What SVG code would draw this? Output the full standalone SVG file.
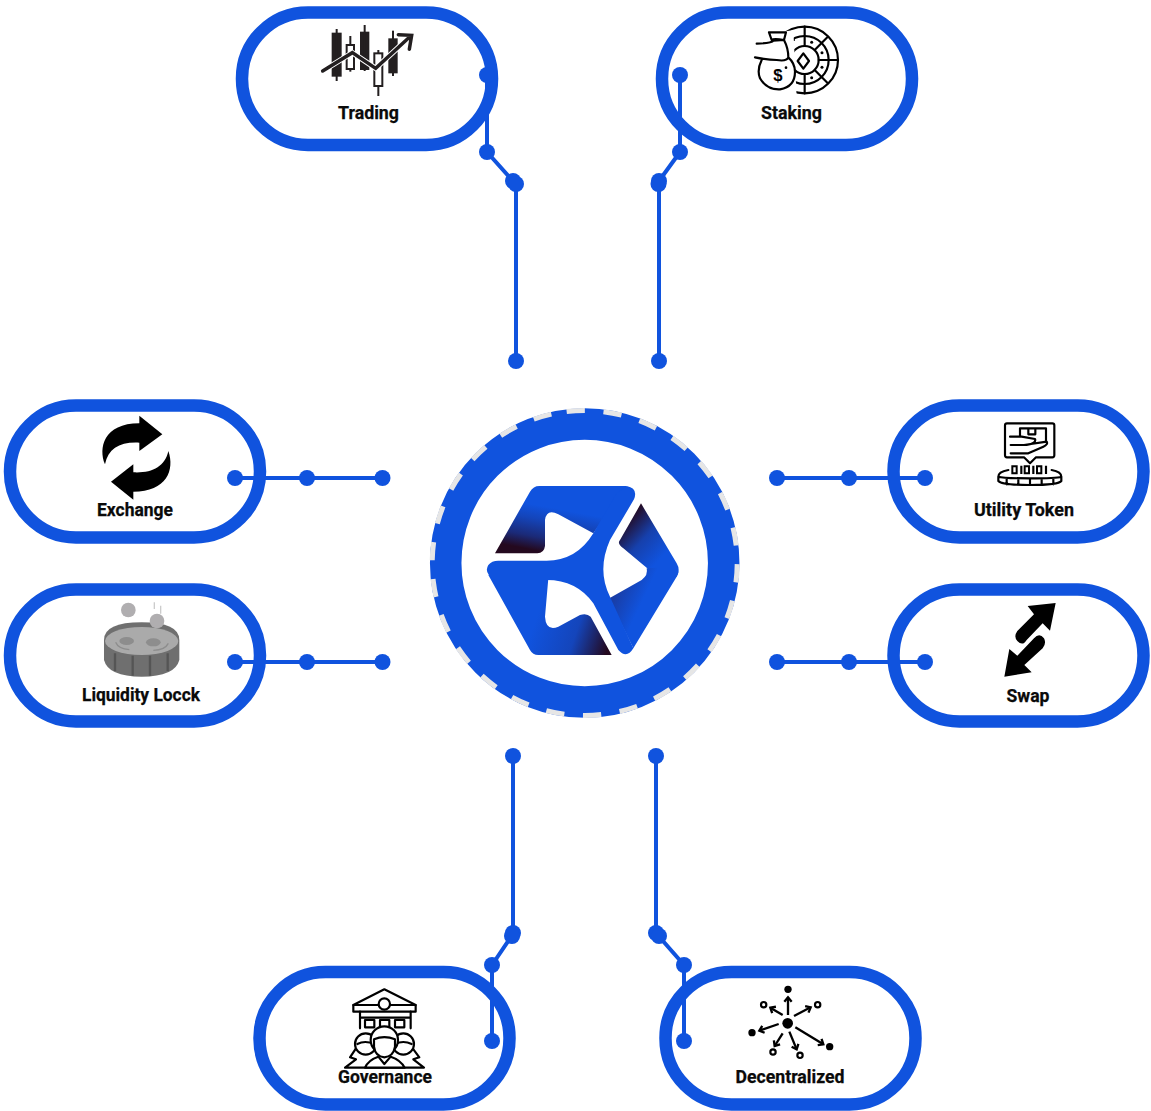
<svg xmlns="http://www.w3.org/2000/svg" width="1151" height="1111" viewBox="0 0 1151 1111">
<defs>
<style>
.pill{fill:#fff;stroke:#1053de;stroke-width:12.5}
.lbl{font-family:"Roboto","Noto Sans","Liberation Sans",sans-serif;font-weight:700;font-size:18.500px;fill:#0a0a0a;stroke:#0a0a0a;stroke-width:.25;text-anchor:middle}
.wire{fill:none;stroke:#1053de;stroke-width:4}
.dot{fill:#1053de}
.ln{fill:none;stroke:#000;stroke-width:6.500;stroke-linecap:round;stroke-linejoin:round}
.lw{fill:#fff;stroke:#000;stroke-width:6.500;stroke-linejoin:round}
.tk{fill:#231f20}
.z{fill:#fff;stroke:#231f20;stroke-width:6}
</style>
<linearGradient id="gTop" gradientUnits="userSpaceOnUse" x1="430" y1="330" x2="405" y2="462"><stop offset="0" stop-color="#1053de"/><stop offset=".3" stop-color="#1445bb"/><stop offset=".7" stop-color="#1b2a78"/><stop offset="1" stop-color="#24091f"/></linearGradient>
<linearGradient id="gRight" gradientUnits="userSpaceOnUse" x1="630" y1="345" x2="745" y2="450"><stop offset="0" stop-color="#24091f"/><stop offset=".5" stop-color="#1640ac"/><stop offset="1" stop-color="#1053de"/></linearGradient>
<linearGradient id="gRight2" gradientUnits="userSpaceOnUse" x1="565" y1="600" x2="650" y2="640"><stop offset="0" stop-color="#1a3a9e"/><stop offset="1" stop-color="#1053de"/></linearGradient>
<linearGradient id="gBot" gradientUnits="userSpaceOnUse" x1="350" y1="650" x2="570" y2="725"><stop offset="0" stop-color="#1053de"/><stop offset=".55" stop-color="#1445bb"/><stop offset="1" stop-color="#24091f"/></linearGradient>
<marker id="ah" markerUnits="userSpaceOnUse" markerWidth="30" markerHeight="30" viewBox="-16 -15 30 30" refX="0" refY="0" orient="auto"><path d="M-13,-11 L0,0 L-13,11" fill="none" stroke="#000" stroke-width="7"/></marker>
</defs>

<g id="hub">
<circle cx="584.700" cy="563" r="139" fill="#fff" stroke="#1053de" stroke-width="31.500"/>
<circle cx="584.700" cy="563" r="152.500" fill="none" stroke="#e6e6e6" stroke-width="5" stroke-dasharray="18.300 18.660" transform="rotate(-96.800 584.700 563)"/>
<g transform="translate(420 400) scale(.33333)">
<path fill="url(#gTop)" d="M225,460 L330,275 Q340,258 358,258 L620,258 L520,400 L415,343 Q380,325 375,360 L375,438 Q372,460 352,460 Z"/>
<path fill="url(#gRight)" d="M663,310 L770,490 Q782,510 770,530 L700,520 L670,495 L610,445 Q590,430 600,420 Z"/>
<path fill="url(#gRight2)" d="M770,530 L640,745 L618,700 L568,595 L665,540 Q685,525 680,505 L770,500 Q780,515 770,530 Z"/>
<path fill="url(#gBot)" d="M205,525 L385,535 L375,650 Q378,695 415,680 L480,645 Q500,638 512,650 L575,765 L355,765 Q338,765 330,750 Z"/>
<path fill="#1053de" d="M620,258 Q655,265 642,298 L570,420 Q530,510 570,590 L640,745 Q620,778 595,750 L520,610 Q470,540 380,540 L225,540 Q190,520 205,495 Q215,482 235,482 L380,482 Q470,482 520,400 L590,280 Z"/>
</g>
</g>

<g id="node-trading">
<rect class="pill" x="242" y="12.500" width="250" height="132.500" rx="66"/>
<g transform="translate(230 0) scale(.33333)">
<rect class="tk" x="305" y="98" width="30" height="132"/><rect class="tk" x="317" y="87" width="6" height="156"/>
<rect class="tk" x="358" y="108" width="6" height="107"/><rect class="z" x="350" y="135" width="22" height="72"/>
<rect class="tk" x="390" y="95" width="28" height="115"/><rect class="tk" x="401" y="75" width="6" height="138"/>
<rect class="tk" x="442" y="150" width="6" height="138"/><rect class="z" x="433" y="160" width="24" height="98"/>
<rect class="tk" x="475" y="115" width="28" height="105"/><rect class="tk" x="486" y="92" width="6" height="136"/>
<path d="M278,213 L367,158 L437,205 L538,112" fill="none" stroke="#fff" stroke-width="16"/>
<path d="M278,213 L367,158 L437,205 L538,112 M505,104 L545,106 L538,148" fill="none" stroke="#231f20" stroke-width="10.500" stroke-linecap="round"/>
</g>
<text class="lbl" x="368.500" y="118.500" textLength="61" lengthAdjust="spacingAndGlyphs">Trading</text>
</g>

<g id="node-staking">
<rect class="pill" x="662" y="12.500" width="250" height="132.500" rx="66"/>
<g transform="translate(640 0) scale(.33333)">
<circle class="ln" cx="494" cy="180" r="100"/>
<circle class="ln" cx="494" cy="180" r="72"/>
<circle class="ln" cx="494" cy="180" r="42"/>
<path class="ln" d="M494,80 V138 M494,222 V280 M536,180 H594 M524,150 L562,112 M524,210 L562,248 M462,120 L455,118"/>
<circle cx="515" cy="127" r="4.500"/><circle cx="546" cy="158" r="4.500"/><circle cx="546" cy="202" r="4.500"/><circle cx="515" cy="233" r="4.500"/>
<path class="ln" d="M490,160 L507,183 L490,206 L473,183 Z"/>
<path fill="#fff" d="M345,110 L460,90 L470,290 L400,290 L340,220 Z"/>
<path class="ln" d="M395,120 L387,97 H438 L432,120 Q400,115 395,120 Z M350,131 Q395,130 400,122 L432,120 Q445,145 445,172 Q440,185 410,180 Q385,180 345,172 M365,180 Q350,210 360,235 Q380,270 420,268 Q465,260 465,215 Q465,190 445,172"/>
<text x="414" y="243" font-family="Liberation Sans, sans-serif" font-weight="700" font-size="50" text-anchor="middle" fill="#000">$</text>
<circle cx="438" cy="203" r="4"/>
</g>
<text class="lbl" x="791.500" y="119" textLength="61" lengthAdjust="spacingAndGlyphs">Staking</text>
</g>

<g id="node-exchange">
<rect class="pill" x="10" y="405.500" width="250" height="132" rx="66"/>
<g transform="translate(0 395) scale(.33333)">
<path d="M315,208 C295,160 310,85 418,85 L418,62 L487,118 L418,168 L418,143 C360,140 325,160 315,208 Z"/>
<path d="M505,168 C525,225 500,290 400,290 L400,314 L333,260 L400,208 L400,232 C455,235 495,215 505,168 Z"/>
</g>
<text class="lbl" x="135" y="515.700" textLength="76" lengthAdjust="spacingAndGlyphs">Exchange</text>
</g>

<g id="node-liquidity">
<rect class="pill" x="10" y="589.500" width="250" height="132" rx="66"/>
<g transform="translate(0 395) scale(.33333)">
<path fill="#6f6f6f" d="M312,735 Q312,682 425,682 Q538,682 538,735 L538,795 Q525,845 425,845 Q325,845 312,795 Z"/>
<ellipse cx="425" cy="738" rx="110" ry="42" fill="#aaa"/>
<path d="M345,775 V828 M398,782 V842 M450,782 V842 M503,775 V828" stroke="#555" stroke-width="7" fill="none"/>
<ellipse cx="380" cy="738" rx="22" ry="12" fill="#8d8d8d"/><ellipse cx="460" cy="742" rx="22" ry="12" fill="#8d8d8d"/>
<path d="M347,742 Q355,762 388,764 M460,766 Q495,765 505,745" stroke="#8d8d8d" stroke-width="4" fill="none"/>
<circle cx="385" cy="645" r="22" fill="#b0aeb0"/><circle cx="471" cy="678" r="22" fill="#b0aeb0"/>
<path d="M463,622 V642 M482,632 V656" stroke="#ccc" stroke-width="4"/>
</g>
<text class="lbl" x="141" y="701" textLength="118" lengthAdjust="spacingAndGlyphs">Liquidity Locck</text>
</g>

<g id="node-utility">
<rect class="pill" x="893.500" y="405.500" width="250" height="132" rx="66"/>
<g transform="translate(880 395) scale(.33333)">
<path class="ln" d="M381,85 H517 Q523,85 523,91 V181 Q523,187 517,187 H468 L450,205 L432,187 H381 Q375,187 375,181 V91 Q375,85 381,85 Z"/>
<path class="ln" d="M420,125 V100 H498 V140 M445,100 V118 H466 V100 M390,125 H425 L465,132 Q470,145 440,150 M392,150 H432 L500,140 Q505,148 490,155 L445,175 H392"/>
<path class="ln" d="M385,225 Q355,230 355,245 V258 Q365,270 450,270 Q535,270 544,258 V245 Q544,230 515,225 M355,245 Q370,250 450,250 Q530,250 544,245 M380,250 V268 M415,252 V270 M450,252 V270 M485,252 V270 M520,250 V268"/>
<path d="M397,214 h13 v21 h-13 z M434,214 h13 v21 h-13 z M471,214 h13 v21 h-13 z" fill="none" stroke="#000" stroke-width="6"/>
<path d="M424,212 v25 M460,212 v25 M498,212 v25" stroke="#000" stroke-width="6.500" fill="none"/>
</g>
<text class="lbl" x="1024" y="516" textLength="100" lengthAdjust="spacingAndGlyphs">Utility Token</text>
</g>

<g id="node-swap">
<rect class="pill" x="893.500" y="589.500" width="250" height="132" rx="66"/>
<g transform="translate(880 395) scale(.33333)">
<path d="M527,624 L510,707 L488,685 L440,735 Q428,755 412,738 Q400,725 412,708 L462,658 L443,633 Z"/>
<path d="M373,845 L388,762 L412,782 L462,730 Q478,712 492,730 Q500,745 488,760 L433,810 L455,832 Z"/>
</g>
<text class="lbl" x="1028" y="701.700" textLength="43" lengthAdjust="spacingAndGlyphs">Swap</text>
</g>

<g id="node-governance">
<rect class="pill" x="259.500" y="972" width="250" height="132.500" rx="66"/>
<g transform="translate(250 920) scale(.33333)">
<path class="lw" d="M310,255 L403,208 L497,255 V275 H310 Z"/>
<circle class="lw" cx="403" cy="252" r="17"/>
<path class="ln" d="M310,255 H385 M421,255 H497 M330,275 V325 M482,275 V325 M330,293 H482"/>
<path class="lw" d="M345,300 h28 v22 h-28 z M390,300 h28 v22 h-28 z M435,300 h28 v22 h-28 z"/>
<path class="lw" d="M300,412 L318,385 H488 L508,412 L490,418 L522,443 H285 L318,418 Z"/>
<circle class="lw" cx="347" cy="372" r="32"/><circle class="lw" cx="460" cy="372" r="32"/>
<path class="ln" d="M322,372 Q345,360 372,372 M435,372 Q460,360 485,372"/>
<path class="lw" d="M345,443 Q355,420 385,410 L403,432 L422,410 Q452,420 464,443 Z"/>
<circle class="lw" cx="403" cy="360" r="41"/>
<path class="lw" d="M372,358 Q403,345 435,358 V380 Q430,410 403,412 Q376,410 372,380 Z"/>
</g>
<text class="lbl" x="385" y="1083" textLength="94" lengthAdjust="spacingAndGlyphs">Governance</text>
</g>

<g id="node-decentralized">
<rect class="pill" x="665.500" y="972" width="250" height="132.500" rx="66"/>
<g transform="translate(640 920) scale(.33333)">
<circle cx="443" cy="310" r="16"/>
<circle cx="444" cy="208" r="11"/><circle cx="336" cy="338" r="11"/><circle cx="569" cy="380" r="11"/>
<g fill="#fff" stroke="#000" stroke-width="6.500"><circle cx="371" cy="254" r="8"/><circle cx="533" cy="254" r="8"/><circle cx="399" cy="396" r="8"/><circle cx="480" cy="406" r="8"/></g>
<g stroke="#000" stroke-width="7" fill="none">
<path d="M444,285 L444,232" marker-end="url(#ah)"/>
<path d="M428,285 L391,263" marker-end="url(#ah)"/>
<path d="M462,288 L512,262" marker-end="url(#ah)"/>
<path d="M416,312 L358,332" marker-end="url(#ah)"/>
<path d="M428,340 L404,378" marker-end="url(#ah)"/>
<path d="M448,335 L470,388" marker-end="url(#ah)"/>
<path d="M466,322 L550,373" marker-end="url(#ah)"/>
</g>
</g>
<text class="lbl" x="790" y="1083" textLength="109" lengthAdjust="spacingAndGlyphs">Decentralized</text>
</g>

<g id="connectors">
<path class="wire" d="M487,75 V152 L513,181 L516,184 V361"/>
<path class="wire" d="M680,75 V152 L659,181 V361"/>
<path class="wire" d="M235,478 H382.500 M235,662 H382.500 M777,478 H925 M777,662 H925"/>
<path class="wire" d="M513,756 V934 L492,965 V1041"/>
<path class="wire" d="M656,756 V933 L684,965 V1041"/>
<g class="dot">
<circle cx="487" cy="75" r="8"/><circle cx="487" cy="152" r="8"/><circle cx="513" cy="181" r="8"/><circle cx="516" cy="184" r="8"/><circle cx="516" cy="361" r="8"/>
<circle cx="680" cy="75" r="8"/><circle cx="680" cy="152" r="8"/><circle cx="659" cy="181" r="8"/><circle cx="658.500" cy="184" r="8"/><circle cx="659" cy="361" r="8"/>
<circle cx="235" cy="478" r="8"/><circle cx="307" cy="478" r="8"/><circle cx="382.500" cy="478" r="8"/>
<circle cx="235" cy="662" r="8"/><circle cx="307" cy="662" r="8"/><circle cx="382.500" cy="662" r="8"/>
<circle cx="777" cy="478" r="8"/><circle cx="849" cy="478" r="8"/><circle cx="925" cy="478" r="8"/>
<circle cx="777" cy="662" r="8"/><circle cx="849" cy="662" r="8"/><circle cx="925" cy="662" r="8"/>
<circle cx="513" cy="756" r="8"/><circle cx="513" cy="933" r="8"/><circle cx="512" cy="936" r="8"/><circle cx="492" cy="965" r="8"/><circle cx="492" cy="1041" r="8"/>
<circle cx="656" cy="756" r="8"/><circle cx="656" cy="933" r="8"/><circle cx="659" cy="936" r="8"/><circle cx="684" cy="965" r="8"/><circle cx="684" cy="1041" r="8"/>
</g>
</g>
</svg>
